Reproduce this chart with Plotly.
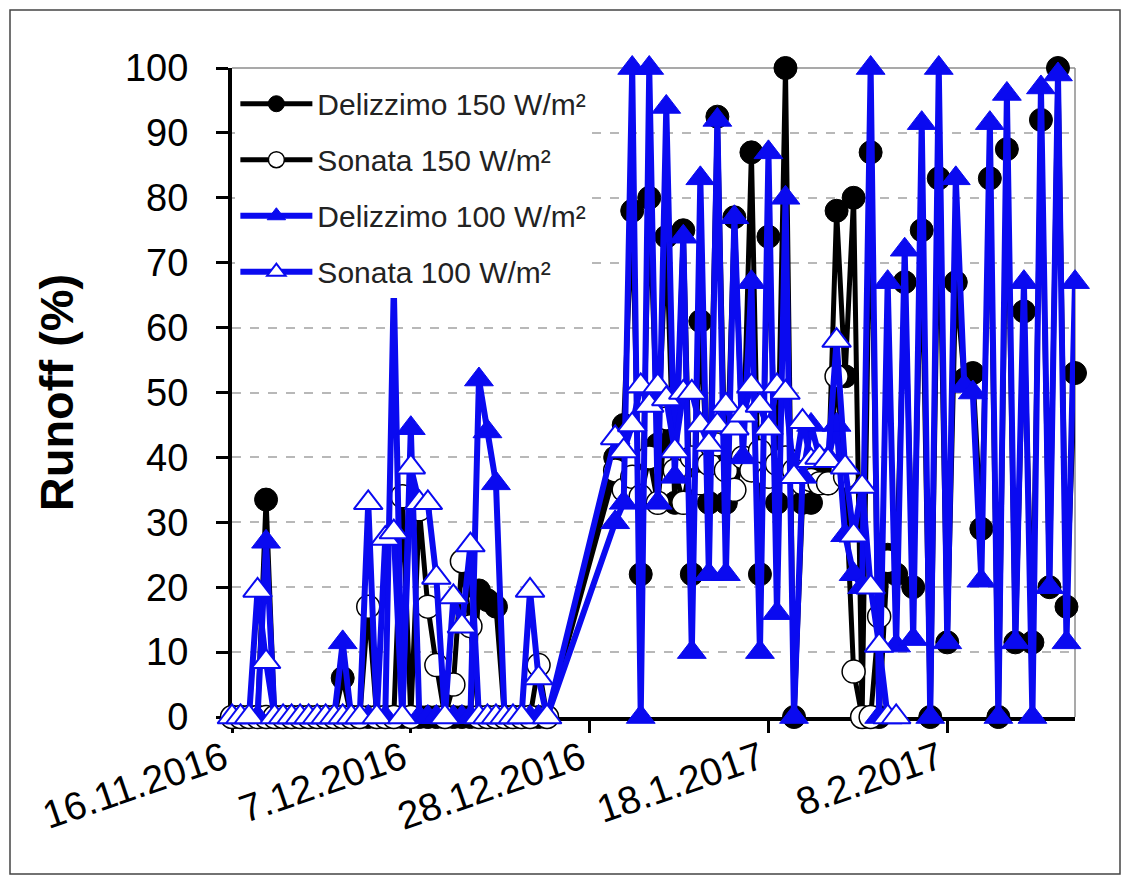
import pandas as pd
import plotly.graph_objects as go

# ---- data ----
early_dates = pd.date_range("2016-11-16", "2016-12-23", freq="D")   # daily, first period
late_dates = pd.date_range("2016-12-31", "2017-02-23", freq="D")    # daily, second period
dates = list(early_dates) + list(late_dates)

tick_dates = ["2016-11-16", "2016-12-07", "2016-12-28", "2017-01-18", "2017-02-08"]
tick_labels = ["16.11.2016", "7.12.2016", "28.12.2016", "18.1.2017", "8.2.2017"]

deliz150_early = [0, 0, 0, 0, 33.5, 0, 0, 0, 0, 0, 0, 0, 0, 6, 0, 0, 0, 0, 0, 0,
                  0, 0, 0, 0, 0, 0, 0, 0, 0, 19.5, 18, 17, 0, 0, 0, 0, 0, 0]
sonata150_early = [0, 0, 0, 0, 0, 0, 0, 0, 0, 0, 0, 0, 0, 0, 0, 0, 17, 0, 0, 0,
                   34, 0, 32, 17, 8, 0, 5, 24, 14, 0, 0, 0, 0, 0, 0, 0, 8, 0]
deliz100_early = [0, 0, 0, 0, 27, 0, 0, 0, 0, 0, 0, 0, 0, 11.5, 0, 0, 0, 0, 0, 66.5,
                  0, 44.5, 0, 0, 0, 0, 0, 0, 0, 52, 44, 36, 0, 0, 0, 0, 0, 0]
sonata100_early = [0, 0, 0, 19.5, 8.5, 0, 0, 0, 0, 0, 0, 0, 0, 0, 0, 0, 33, 0, 27.5, 28.5,
                   0, 38.5, 33, 33, 21.5, 0, 18.5, 14, 26.5, 0, 0, 0, 0, 0, 0, 19.5, 6, 0]

deliz150_late = [40, 45, 78, 22, 80, 42, 74, 33, 75, 22, 61, 33, 92.5, 33, 77, 40, 87, 22, 74, 33,
                 100, 0, 33, 33, 37, 36, 78, 52.5, 80, 0, 87, 0, 25, 22, 67, 20, 75, 0, 83, 11.5,
                 67, 52, 53, 29, 83, 0, 87.5, 11.5, 62.5, 11.5, 92, 20, 100, 17, 53]
sonata150_late = [38, 35, 37, 34, 40, 33, 46, 38, 33, 40, 36, 39, 42, 38, 35, 40, 38, 41, 37, 39,
                  40, 38, 36, 36.5, 36, 36, 52.5, 37, 7, 0, 0, 15.5, 24] + [None] * 22
deliz100_late = [30, 33, 100, 0, 100, 33, 94, 37, 74, 10, 83, 22, 92, 22, 77, 40, 67, 10, 87, 16,
                 80, 0, 37, 45, 40, 40, 45, 28, 22, 20, 100, 0, 67, 11, 72, 12, 91.5, 0, 100, 11.5,
                 83, 51, 50, 21, 91.5, 0, 96, 11.5, 67, 0, 97, 20, 99, 11.5, 67]
sonata100_late = [43, 41, 45, 51, 48, 51, 49, 41, 50, 50, 45, 42, 45, 48, 44.5, 46.5, 51, 48, 44.5, 51,
                  50, 37, 45.5, 39.5, 40, 39.5, 58, 38.5, 28, 35.5, 20, 11, 0, 0] + [None] * 21

series_names = ["Delizzimo 150 W/m²", "Sonata 150 W/m²", "Delizzimo 100 W/m²", "Sonata 100 W/m²"]
series_values = [deliz150_early + deliz150_late,
                 sonata150_early + sonata150_late,
                 deliz100_early + deliz100_late,
                 sonata100_early + sonata100_late]

# ---- styles ----
BLUE = "#0a0af0"
styles = [
    dict(line=dict(color="black", width=5),
         marker=dict(symbol="circle", size=23, color="black", line=dict(color="black", width=1))),
    dict(line=dict(color="black", width=5),
         marker=dict(symbol="circle", size=23, color="white", line=dict(color="black", width=1.5))),
    dict(line=dict(color=BLUE, width=6),
         marker=dict(symbol="triangle-up", size=25, color=BLUE, line=dict(color=BLUE, width=1))),
    dict(line=dict(color=BLUE, width=6),
         marker=dict(symbol="triangle-up", size=25, color="white", line=dict(color=BLUE, width=2))),
]

FONT = "Liberation Sans, Arial, sans-serif"

fig = go.Figure()
for name, vals, st in zip(series_names, series_values, styles):
    fig.add_trace(go.Scatter(
        x=dates, y=vals, name=name, mode="lines+markers",
        line=st["line"], marker=st["marker"], cliponaxis=False,
        legendgroup=name, connectgaps=False,
    ))

W, H = 1130, 884
ML, MR, MT, MB = 232, 55, 68, 167
pw, ph = W - ML - MR, H - MT - MB

def px_x(p):
    return (p - ML) / pw

def px_y(p):
    return (H - MB - p) / ph

fig.update_layout(
    width=W, height=H,
    margin=dict(l=ML, r=MR, t=MT, b=MB, pad=0),
    paper_bgcolor="white", plot_bgcolor="white",
    font=dict(family=FONT, color="black"),
    showlegend=True,
    legend=dict(
        x=0.004, y=0.985, xanchor="left", yanchor="top",
        bgcolor="white", borderwidth=0,
        font=dict(family=FONT, size=30, color="#222222"),
        traceorder="grouped", tracegroupgap=14, itemwidth=72,
    ),
    xaxis=dict(
        type="date", range=["2016-11-16", "2017-02-23"],
        tickvals=tick_dates, ticktext=tick_labels, tickangle=-19,
        ticks="outside", ticklen=12, tickwidth=3, tickcolor="black",
        showline=True, linecolor="black", linewidth=4,
        showgrid=False, zeroline=False, layer="below traces",
        tickfont=dict(family=FONT, size=39, color="black"),
        ticklabelstandoff=-12, ticklabelshift=-8,
    ),
    yaxis=dict(
        range=[0, 100], dtick=10, tick0=0,
        ticks="outside", ticklen=12, tickwidth=3, tickcolor="black",
        showline=True, linecolor="black", linewidth=4,
        showgrid=True, gridcolor="#b8b8b8", gridwidth=1.5, griddash="dash",
        zeroline=False, layer="below traces",
        tickfont=dict(family=FONT, size=38, color="black"),
        ticklabelstandoff=20,
        title=dict(text="<b>Runoff (%)</b>", font=dict(family=FONT, size=47, color="black"),
                   standoff=38),
    ),
    shapes=[
        dict(type="line", xref="paper", yref="paper", x0=0, x1=1, y0=1, y1=1,
             line=dict(color="#8c8c8c", width=1.5), layer="below"),
        dict(type="line", xref="paper", yref="paper", x0=1, x1=1, y0=0, y1=1,
             line=dict(color="#8c8c8c", width=1.5), layer="below"),
        dict(type="rect", xref="paper", yref="paper",
             x0=px_x(10), x1=px_x(1120), y0=px_y(874), y1=px_y(10),
             line=dict(color="#444444", width=1.5), layer="below"),
    ],
)

fig.write_html("out.html")
